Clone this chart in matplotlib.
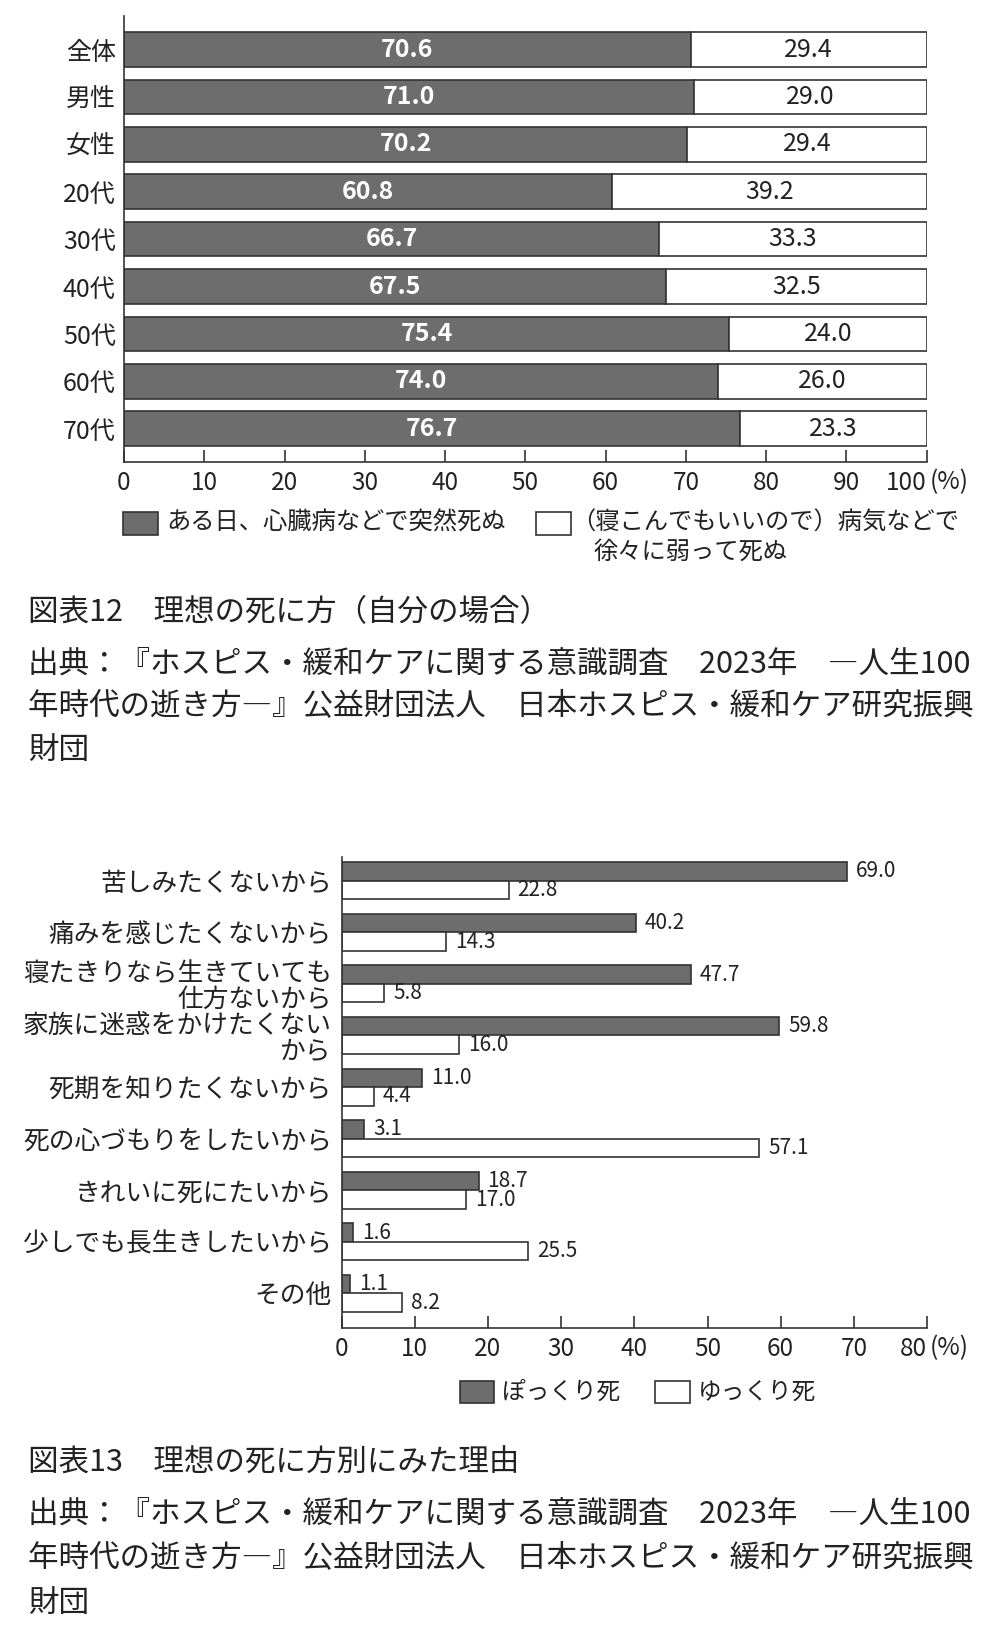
# Ideal way of dying: two bar charts with captions
import numpy as np
import matplotlib
matplotlib.use("Agg")
import matplotlib.pyplot as plt
from matplotlib.patches import Rectangle

plt.rcParams['font.family'] = ['Noto Sans CJK JP', 'DejaVu Sans']

# Chart 12 data
groups = ['全体', '男性', '女性', '20代', '30代', '40代', '50代', '60代', '70代']
sudden = [70.6, 71.0, 70.2, 60.8, 66.7, 67.5, 75.4, 74.0, 76.7]
gradual = [29.4, 29.0, 29.4, 39.2, 33.3, 32.5, 24.0, 26.0, 23.3]

# Chart 13 data
reasons = ['苦しみたくないから', '痛みを感じたくないから',
           '寝たきりなら生きていても\n仕方ないから', '家族に迷惑をかけたくない\nから',
           '死期を知りたくないから', '死の心づもりをしたいから',
           'きれいに死にたいから', '少しでも長生きしたいから', 'その他']
pokkuri = [69.0, 40.2, 47.7, 59.8, 11.0, 3.1, 18.7, 1.6, 1.1]
yukkuri = [22.8, 14.3, 5.8, 16.0, 4.4, 57.1, 17.0, 25.5, 8.2]

DARK = '#6d6d6d'
EDGE = '#333333'
TXT = '#222222'
W, H = 1000, 1635


def fx(px):
    return px / W


def fy(py):
    return 1 - py / H


fig = plt.figure(figsize=(10, 16.35), dpi=100)


def style_axis(ax, xmax):
    for s in ['top', 'right']:
        ax.spines[s].set_visible(False)
    for s in ['left', 'bottom']:
        ax.spines[s].set_color(EDGE)
        ax.spines[s].set_linewidth(1.2)
    ax.set_xlim(0, xmax)
    ax.set_xticks(np.arange(0, xmax + 1, 10))
    ax.tick_params(axis='x', direction='in', length=9, width=1.2, color=EDGE,
                   labelsize=17.5, labelcolor=TXT, pad=6)
    ax.get_xticklabels()[-1].set_ha('right')


# ---------- chart 12 ----------
ax1 = fig.add_axes([fx(124), fy(461.7), fx(926.7) - fx(124), (461.7 - 16) / H])
y1 = np.arange(len(groups))
ax1.barh(y1, sudden, height=0.728, color=DARK, edgecolor=EDGE, linewidth=1.2)
rest = [100 - s for s in sudden]
ax1.barh(y1, rest, left=sudden, height=0.728, color='white', edgecolor=EDGE, linewidth=1.2)
for i in range(len(groups)):
    ax1.text(sudden[i] / 2, i, f'{sudden[i]:.1f}', ha='center', va='center',
             color='white', fontsize=18, fontweight='bold')
    ax1.text((sudden[i] + 100) / 2, i, f'{gradual[i]:.1f}', ha='center', va='center',
             color=TXT, fontsize=18)
ax1.set_ylim(8.696, -0.707)
ax1.set_yticks(y1)
ax1.set_yticklabels(groups)
ax1.tick_params(axis='y', length=0, pad=6, labelsize=18, labelcolor=TXT)
style_axis(ax1, 100)
fig.text(fx(930), fy(482), '(%)', ha='left', va='center', fontsize=17.5, color=TXT)

# legend 12
fig.patches.append(Rectangle((fx(123), fy(535)), fx(35), 23 / H, transform=fig.transFigure,
                             facecolor=DARK, edgecolor=EDGE, linewidth=1.2))
fig.text(fx(166), fy(523), 'ある日、心臓病などで突然死ぬ', ha='left', va='center',
         fontsize=17.5, color=TXT)
fig.patches.append(Rectangle((fx(536), fy(535)), fx(35), 23 / H, transform=fig.transFigure,
                             facecolor='white', edgecolor=EDGE, linewidth=1.2))
fig.text(fx(571), fy(523), '（寝こんでもいいので）病気などで', ha='left', va='center',
         fontsize=17.5, color=TXT)
fig.text(fx(594), fy(552), '徐々に弱って死ぬ', ha='left', va='center',
         fontsize=17.5, color=TXT)

# captions 12
src1 = '出典：『ホスピス・緩和ケアに関する意識調査　2023年　―人生100'
src2 = '年時代の逝き方―』公益財団法人　日本ホスピス・緩和ケア研究振興'
src3 = '財団'
fig.text(fx(28), fy(613), '図表12　理想の死に方（自分の場合）', ha='left', va='center',
         fontsize=22, color=TXT)
for txt, py in zip([src1, src2, src3], [664, 707, 751]):
    fig.text(fx(28), fy(py), txt, ha='left', va='center', fontsize=22, color=TXT)

# ---------- chart 13 ----------
ax2 = fig.add_axes([fx(341.7), fy(1327.7), fx(927) - fx(341.7), (1327.7 - 856.7) / H])
y2 = np.arange(len(reasons))
bh = 0.36
ax2.barh(y2 - bh / 2, pokkuri, height=bh, color=DARK, edgecolor=EDGE, linewidth=1.2)
ax2.barh(y2 + bh / 2, yukkuri, height=bh, color='white', edgecolor=EDGE, linewidth=1.2)
for i in range(len(reasons)):
    ax2.annotate(f'{pokkuri[i]:.1f}', (pokkuri[i], i - bh / 2), xytext=(6.5, 0),
                 textcoords='offset points', ha='left', va='center', fontsize=15, color=TXT)
    ax2.annotate(f'{yukkuri[i]:.1f}', (yukkuri[i], i + bh / 2), xytext=(6.5, 0),
                 textcoords='offset points', ha='left', va='center', fontsize=15, color=TXT)
ax2.set_ylim(8.663, -0.465)
ax2.set_yticks(y2)
ax2.set_yticklabels(reasons, linespacing=1.0)
ax2.tick_params(axis='y', length=0, pad=7, labelsize=18.5, labelcolor=TXT)
style_axis(ax2, 80)
fig.text(fx(930), fy(1348), '(%)', ha='left', va='center', fontsize=17.5, color=TXT)

# legend 13
fig.patches.append(Rectangle((fx(460), fy(1403.3)), fx(34), 22.6 / H, transform=fig.transFigure,
                             facecolor=DARK, edgecolor=EDGE, linewidth=1.2))
fig.text(fx(502), fy(1392), 'ぽっくり死', ha='left', va='center', fontsize=17, color=TXT)
fig.patches.append(Rectangle((fx(655), fy(1403.3)), fx(35), 22.6 / H, transform=fig.transFigure,
                             facecolor='white', edgecolor=EDGE, linewidth=1.2))
fig.text(fx(698), fy(1392), 'ゆっくり死', ha='left', va='center', fontsize=17, color=TXT)

# captions 13
fig.text(fx(28), fy(1463), '図表13　理想の死に方別にみた理由', ha='left', va='center',
         fontsize=22, color=TXT)
for txt, py in zip([src1, src2, src3], [1514, 1559, 1604]):
    fig.text(fx(28), fy(py), txt, ha='left', va='center', fontsize=22, color=TXT)

fig.savefig('out.png', dpi=100, facecolor='white')
